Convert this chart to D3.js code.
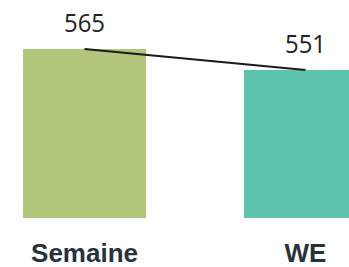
<!DOCTYPE html>
<html><head><meta charset="utf-8">
<script src="https://cdn.jsdelivr.net/npm/d3@7"></script>
<style>html,body{margin:0;padding:0;background:#fff;overflow:hidden}</style>
</head><body><svg id="c" width="349" height="267"></svg>
<script>
const categories = ["Semaine", "WE"];
const values = [565, 551];
const colors = ["#b1c67b", "#5ec4ae"];

const svg = d3.select("#c");
const x = d3.scaleBand().domain(categories).range([23, 367]).paddingInner(0.443).paddingOuter(0);
const y = d3.scaleLinear().domain([452, 565]).range([218, 49]);

svg.selectAll("rect.bar").data(categories).join("rect")
  .attr("x", d => x(d)).attr("width", x.bandwidth())
  .attr("y", (d,i) => y(values[i])).attr("height", (d,i) => y(452) - y(values[i]))
  .attr("fill", (d,i) => colors[i]);

const line = d3.line().x((d,i) => x(categories[i]) + x.bandwidth()/2).y(d => y(d));
svg.append("path").attr("d", line(values)).attr("fill","none").attr("stroke","#1a1a1a").attr("stroke-width",2);

svg.selectAll("text.val").data(values).join("text")
  .attr("x", (d,i) => x(categories[i]) + x.bandwidth()/2)
  .attr("y", d => y(d) - 17)
  .attr("text-anchor","middle")
  .attr("textLength", 41).attr("lengthAdjust","spacingAndGlyphs")
  .style("font-family","'Open Sans', sans-serif").style("font-size","26px").attr("fill","#222")
  .text(d => d);

svg.selectAll("text.cat").data(categories).join("text")
  .attr("x", d => x(d) + x.bandwidth()/2)
  .attr("y", 262)
  .attr("text-anchor","middle")
  .style("font-family","'Liberation Sans', Arial, sans-serif").style("font-weight","bold").style("font-size","26px").attr("fill","#26333d")
  .text(d => d);
</script></body></html>
